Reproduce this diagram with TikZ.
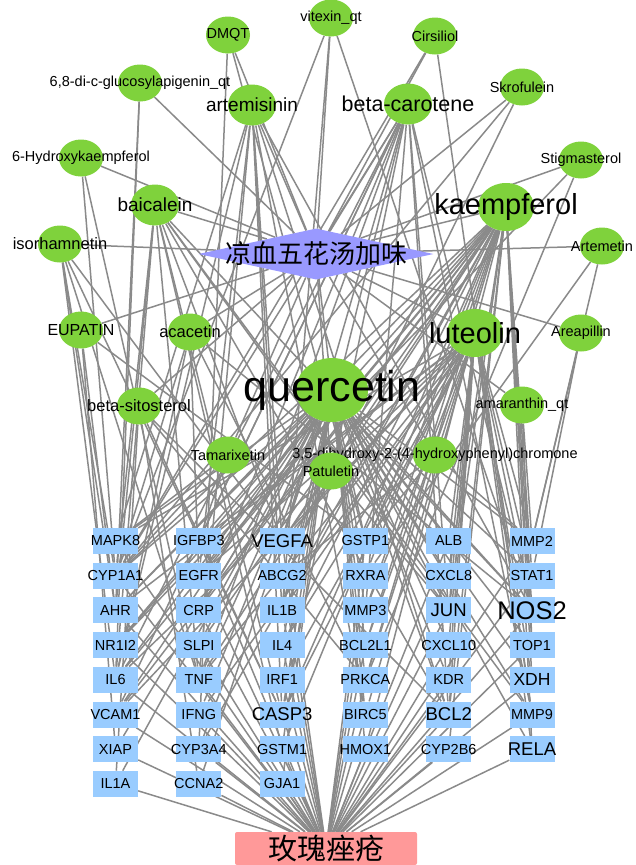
\documentclass[tikz,border=0pt]{standalone}
\usepackage{fontspec}
\setmainfont{Liberation Sans}
\newfontfamily\cjk{Noto Sans CJK SC}
\usepackage{tikz}
\usetikzlibrary{shapes.geometric,backgrounds}
\definecolor{cmpgreen}{HTML}{7FD23C}
\definecolor{geneblue}{HTML}{99CCFF}
\definecolor{herbblue}{HTML}{9999FF}
\definecolor{disrose}{HTML}{FF9999}
\definecolor{lnkgray}{HTML}{8A8A8A}
\newcommand{\olbl}[1]{\makebox[0pt]{#1}}
\newcommand{\fsz}[1]{\fontsize{#1}{#1}\selectfont}
\tikzset{
  cmp/.style={ellipse, fill=cmpgreen, inner sep=0pt, minimum width=44pt, minimum height=37pt, font=\fsz{14.5}},
  cmpmid/.style={cmp, minimum width=48pt, minimum height=41pt, font=\fsz{19}},
  cmpbig/.style={cmp, minimum width=56pt, minimum height=48pt, font=\fsz{29}},
  cmphuge/.style={cmp, minimum width=72pt, minimum height=64pt, font=\fsz{43}},
  gene/.style={rectangle, fill=geneblue, inner sep=0pt, minimum width=45pt, minimum height=26pt},
  herbbox/.style={diamond, fill=herbblue, inner sep=0pt, minimum width=235pt, minimum height=51pt, font=\cjk\fsz{26}},
  disbox/.style={rectangle, rounded corners=2pt, fill=disrose, inner sep=0pt, minimum width=182pt, minimum height=33pt, font=\cjk\fsz{29}},
  lnk/.style={draw=lnkgray, line width=1.5pt},
}
\begin{document}
\begin{tikzpicture}[x=1pt, y=-1pt]
  \useasboundingbox (0,0) rectangle (635,865);
  \node[herbbox] (herb) at (316,254) {\olbl{凉血五花汤加味}};
  \node[disbox] (dis) at (326,848.5) {\olbl{玫瑰痤疮}};
  \node[cmp] (dmqt) at (228,35) {\olbl{DMQT}};
  \node[cmp] (vit) at (331,18) {\olbl{vitexin\_qt}};
  \node[cmp] (cirs) at (435,36) {\olbl{Cirsiliol}};
  \node[cmp] (glua) at (140,83) {\olbl{6,8-di-c-glucosylapigenin\_qt}};
  \node[cmpmid] (arte) at (252,105) {\olbl{artemisinin}};
  \node[cmpmid, font=\fsz{21.5}] (bcar) at (408,104) {\olbl{beta-carotene}};
  \node[cmp] (skro) at (522,87) {\olbl{Skrofulein}};
  \node[cmp] (hyk) at (81,158) {\olbl{6-Hydroxykaempferol}};
  \node[cmp] (stig) at (581,160) {\olbl{Stigmasterol}};
  \node[cmpmid] (baic) at (155,205) {\olbl{baicalein}};
  \node[cmpbig] (kaem) at (506,207) {\olbl{kaempferol}};
  \node[cmp, font=\fsz{16.5}] (isor) at (60,244) {\olbl{isorhamnetin}};
  \node[cmp] (artm) at (602,246) {\olbl{Artemetin}};
  \node[cmp, font=\fsz{16}] (eupa) at (81,330) {\olbl{EUPATIN}};
  \node[cmp, font=\fsz{16.5}] (acac) at (190,332) {\olbl{acacetin}};
  \node[cmpbig] (lute) at (475,333) {\olbl{luteolin}};
  \node[cmp] (area) at (581,333) {\olbl{Areapillin}};
  \node[cmphuge] (quer) at (332,390) {\olbl{quercetin}};
  \node[cmp, font=\fsz{16.5}] (bsit) at (139,406) {\olbl{beta-sitosterol}};
  \node[cmp] (amar) at (522,405) {\olbl{amaranthin\_qt}};
  \node[cmp] (tama) at (228,455) {\olbl{Tamarixetin}};
  \node[cmp] (chro) at (435,455) {\olbl{3,5-dihydroxy-2-(4-hydroxyphenyl)chromone}};
  \node[cmp] (patu) at (331,471) {\olbl{Patuletin}};
  \foreach \xx/\col in {
      115.5/{MAPK8/14.5,CYP1A1/14.5,AHR/14.5,NR1I2/14.5,IL6/14.5,VCAM1/14.5,XIAP/14.5,IL1A/14.5},
      198.8/{IGFBP3/14.5,EGFR/14.5,CRP/14.5,SLPI/14.5,TNF/14.5,IFNG/14.5,CYP3A4/14.5,CCNA2/14.5},
      282.1/{VEGFA/18.5,ABCG2/14.5,IL1B/14.5,IL4/14.5,IRF1/14.5,CASP3/18.5,GSTM1/14.5,GJA1/14.5},
      365.4/{GSTP1/14.5,RXRA/14.5,MMP3/14.5,BCL2L1/14.5,PRKCA/14.5,BIRC5/14.5,HMOX1/14.5},
      448.7/{ALB/14.5,CXCL8/14.5,JUN/18.5,CXCL10/14.5,KDR/14.5,BCL2/18.5,CYP2B6/14.5},
      532/{MMP2/14.5,STAT1/14.5,NOS2/25.5,TOP1/14.5,XDH/17.5,MMP9/14.5,RELA/18.5}}
    \foreach \g/\fs [count=\r] in \col
      \node[gene, font=\fsz{\fs}] (\g) at (\xx,506.3+34.7*\r) {\olbl{\g}};
  \begin{pgfonlayer}{background}
    \foreach \c in {dmqt,vit,cirs,glua,arte,bcar,skro,hyk,stig,baic,kaem,isor,artm,eupa,acac,lute,area,quer,bsit,amar,tama,chro,patu}
      \draw[lnk] (herb) -- (\c);
    \foreach \g in {MAPK8,CYP1A1,AHR,NR1I2,IL6,VCAM1,XIAP,IL1A,IGFBP3,EGFR,CRP,SLPI,TNF,IFNG,CYP3A4,CCNA2,VEGFA,ABCG2,IL1B,IL4,IRF1,CASP3,GSTM1,GJA1,GSTP1,RXRA,MMP3,BCL2L1,PRKCA,BIRC5,HMOX1,ALB,CXCL8,JUN,CXCL10,KDR,BCL2,CYP2B6,MMP2,STAT1,NOS2,TOP1,XDH,MMP9,RELA}
      \draw[lnk] (\g) -- (dis);
    \foreach \c/\tl in {
        quer/{MAPK8,CYP1A1,AHR,NR1I2,IL6,VCAM1,XIAP,IL1A,IGFBP3,EGFR,CRP,SLPI,TNF,IFNG,CYP3A4,CCNA2,VEGFA,IL1B,IL4,IRF1,CASP3,GSTM1,GJA1,GSTP1,RXRA,MMP3,BCL2L1,PRKCA,BIRC5,HMOX1,ALB,CXCL8,JUN,CXCL10,KDR,BCL2,MMP2,STAT1,NOS2,TOP1,XDH,MMP9,RELA},
        kaem/{CYP1A1,AHR,NR1I2,IL6,VCAM1,EGFR,CRP,SLPI,TNF,CYP3A4,VEGFA,IL1B,IL4,CASP3,GSTM1,RXRA,MMP3,BCL2L1,PRKCA,HMOX1,CXCL8,JUN,BCL2,CYP2B6,STAT1,NOS2,TOP1,XDH,RELA},
        lute/{MAPK8,AHR,IL6,VCAM1,IGFBP3,EGFR,TNF,IFNG,VEGFA,IL1B,IL4,IRF1,CASP3,GSTP1,MMP3,BCL2L1,PRKCA,BIRC5,ALB,CXCL8,JUN,CXCL10,KDR,BCL2,MMP2,STAT1,NOS2,XDH,MMP9,RELA},
        bcar/{CYP1A1,IL6,VCAM1,IGFBP3,CRP,TNF,VEGFA,CASP3,MMP3,JUN,BCL2,NOS2,MMP9,IL1B},
        arte/{MAPK8,IL6,EGFR,TNF,VEGFA,IL1B,CASP3,BIRC5,BCL2,NOS2},
        baic/{CYP1A1,AHR,IL6,TNF,VEGFA,CASP3,GSTM1,BCL2,JUN,NOS2,MMP9},
        acac/{CYP1A1,EGFR,IL6,NOS2,PRKCA},
        isor/{CYP1A1,AHR,IL6,TNF,VEGFA,CASP3},
        bsit/{IL1A,CCNA2,CASP3,PRKCA,BCL2},
        eupa/{AHR,XIAP,GSTP1},
        tama/{CYP1A1,MAPK8,IGFBP3},
        chro/{ABCG2,GSTP1,MMP2},
        patu/{ABCG2,VEGFA,JUN},
        amar/{TOP1,MMP2},
        area/{STAT1,MMP2},
        artm/{MMP2,RXRA},
        skro/{ABCG2,CYP1A1},
        stig/{NR1I2,PRKCA},
        cirs/{CYP1A1,MMP9},
        dmqt/{CYP3A4,GSTP1},
        vit/{CYP1A1,NOS2,IL1B},
        glua/{AHR,IL6},
        hyk/{CYP1A1,TNF}}
      \foreach \t in \tl
        \draw[lnk] (\c) -- (\t);
  \end{pgfonlayer}
\end{tikzpicture}
\end{document}
